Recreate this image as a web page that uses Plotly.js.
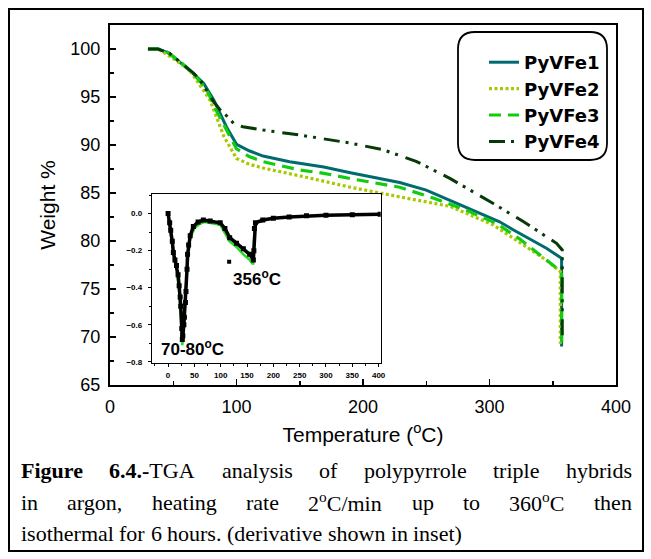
<!DOCTYPE html>
<html><head><meta charset="utf-8">
<script src="https://cdn.plot.ly/plotly-3.0.1.min.js"></script>
<style>html,body{margin:0;padding:0;background:#fff;}#chart{width:651px;height:559px;}</style>
</head><body><div id="chart"></div>
<script>
// ---------------- data ----------------
const seriesNames = ['PyVFe1', 'PyVFe2', 'PyVFe3', 'PyVFe4'];

const pyvfe1_T = [30, 38, 47, 58, 66, 74, 82, 92, 100, 110, 121, 142, 169, 190, 229, 250, 271, 308, 319, 345, 357, 357];
const pyvfe1_W = [100, 100, 99.55, 98.33, 97.4, 96.43, 94.7, 91.9, 90.07, 89.4, 88.85, 88.26, 87.7, 87.1, 86.1, 85.3, 84.1, 82.0, 81.15, 79.24, 78.2, 69.0];

const pyvfe2_T = [30, 38, 50, 63, 71, 79, 90, 100, 110, 121, 153, 190, 229, 269, 303, 319, 345, 356, 356];
const pyvfe2_W = [100, 100, 99.0, 97.8, 96.25, 94.7, 90.9, 88.6, 88.0, 87.6, 86.7, 85.6, 84.6, 83.6, 81.67, 80.3, 78.0, 76.8, 69.3];

const pyvfe3_T = [30, 38, 45, 58, 66, 76, 84, 95, 100, 110, 121, 150, 169, 190, 229, 256, 282, 306, 324, 353, 357, 357];
const pyvfe3_W = [100, 100, 99.7, 98.4, 97.4, 95.9, 93.6, 90.9, 89.6, 88.8, 88.26, 87.4, 87.05, 86.5, 85.6, 84.45, 83.2, 81.8, 80.2, 77.2, 76.5, 69.5];

const pyvfe4_T = [30, 38, 47, 58, 66, 71, 82, 88, 93.5, 98, 105, 121, 150, 190, 216, 242, 269, 303, 327, 353, 357.5, 357.5];
const pyvfe4_W = [100, 100, 99.55, 98.4, 97.5, 96.8, 94.5, 93.5, 92.9, 92.2, 91.9, 91.56, 91.04, 90.2, 89.5, 88.3, 86.5, 83.9, 82.0, 79.76, 79.07, 70.0];

// inset: derivative
const deriv_black_x = [0, 3, 5, 8, 10, 13, 16, 19, 21, 23, 24, 26, 27, 28, 30, 31, 33, 34, 36, 37, 39, 42, 48, 57, 67, 80, 99, 108, 117, 130, 143, 155, 162, 163, 164, 166, 180, 200, 230, 263, 300, 350, 403];
const deriv_black_y = [0, -0.05, -0.09, -0.15, -0.21, -0.25, -0.28, -0.33, -0.39, -0.45, -0.5, -0.62, -0.68, -0.66, -0.6, -0.56, -0.48, -0.42, -0.3, -0.22, -0.17, -0.12, -0.07, -0.045, -0.035, -0.04, -0.05, -0.08, -0.13, -0.16, -0.19, -0.22, -0.25, -0.2, -0.08, -0.05, -0.035, -0.025, -0.018, -0.012, -0.009, -0.006, -0.004];
const deriv_green_x = [0, 5, 10, 16, 21, 24, 26, 27, 28, 30, 33, 36, 39, 42, 50, 60, 70, 80, 99, 117, 130, 143, 155, 160, 162, 163, 165, 180];
const deriv_green_y = [0, -0.1, -0.22, -0.3, -0.42, -0.55, -0.66, -0.71, -0.68, -0.6, -0.45, -0.3, -0.19, -0.13, -0.08, -0.055, -0.045, -0.05, -0.06, -0.15, -0.18, -0.22, -0.25, -0.27, -0.27, -0.15, -0.05, -0.04];
const deriv_dot_x = [116];
const deriv_dot_y = [-0.26];

const insetTickX = [0, 50, 100, 150, 200, 250, 300, 350, 400];

// ---------------- layout helpers ----------------
const PL = 110, PR = 616, PT = 25, PB = 385;
const px2x = p => (p - PL) / (PR - PL);
const py2y = p => (PB - p) / (PB - PT);

function roundedRect(l, t, r, b, rad) {
  const X = px2x, Y = py2y;
  return 'M' + X(l + rad) + ',' + Y(t) +
    ' L' + X(r - rad) + ',' + Y(t) +
    ' Q' + X(r) + ',' + Y(t) + ' ' + X(r) + ',' + Y(t + rad) +
    ' L' + X(r) + ',' + Y(b - rad) +
    ' Q' + X(r) + ',' + Y(b) + ' ' + X(r - rad) + ',' + Y(b) +
    ' L' + X(l + rad) + ',' + Y(b) +
    ' Q' + X(l) + ',' + Y(b) + ' ' + X(l) + ',' + Y(b - rad) +
    ' L' + X(l) + ',' + Y(t + rad) +
    ' Q' + X(l) + ',' + Y(t) + ' ' + X(l + rad) + ',' + Y(t) + ' Z';
}

// ---------------- traces ----------------
const traces = [
  {x: pyvfe1_T, y: pyvfe1_W, name: seriesNames[0], mode: 'lines', line: {color: '#006b6e', width: 3}},
  {x: pyvfe2_T, y: pyvfe2_W, name: seriesNames[1], mode: 'lines', line: {color: '#a8c800', width: 3.2, dash: '3px,2.5px'}},
  {x: pyvfe3_T, y: pyvfe3_W, name: seriesNames[2], mode: 'lines', line: {color: '#11cc11', width: 3.2, dash: '12px,7px'}},
  {x: pyvfe4_T, y: pyvfe4_W, name: seriesNames[3], mode: 'lines', line: {color: '#063a06', width: 3, dash: '16px,6px,3px,6px,3px,8px'}},
  {x: deriv_green_x, y: deriv_green_y, xaxis: 'x2', yaxis: 'y2', mode: 'lines', showlegend: false, line: {color: '#22dd22', width: 2.5}},
  {x: deriv_black_x, y: deriv_black_y, xaxis: 'x2', yaxis: 'y2', mode: 'lines+markers', showlegend: false,
   line: {color: '#000', width: 3.5}, marker: {color: '#000', size: 5, symbol: 'square'}},
  {x: deriv_dot_x, y: deriv_dot_y, xaxis: 'x2', yaxis: 'y2', mode: 'markers', showlegend: false,
   marker: {color: '#000', size: 4, symbol: 'square'}}
];

// ---------------- caption (justified words) ----------------
const CAP_FS = 22;
const cv = document.createElement('canvas').getContext('2d');
function segW(s) {
  const fs = s.sup ? CAP_FS * 0.7 : CAP_FS;
  cv.font = (s.b ? 'bold ' : '') + fs + "px 'Liberation Serif'";
  return cv.measureText(s.t).width;
}
function segHtml(s) {
  if (s.b) return '<b>' + s.t + '</b>';
  if (s.sup) return '<sup>' + s.t + '</sup>';
  return s.t;
}
function plainWords(str) { return str.split(' ').map(w => [{t: w}]); }
const captionLines = [
  {y: 470, justify: true, words: [[{t: 'Figure', b: 1}], [{t: '6.4.-', b: 1}, {t: 'TGA'}]].concat(plainWords('analysis of polypyrrole triple hybrids'))},
  {y: 502, justify: true, words: plainWords('in argon, heating rate').concat([[{t: '2'}, {t: 'o', sup: 1}, {t: 'C/min'}]], plainWords('up to'), [[{t: '360'}, {t: 'o', sup: 1}, {t: 'C'}]], plainWords('then'))},
  {y: 533, justify: false, words: plainWords('isothermal for 6 hours. (derivative shown in inset)')}
];
const CAP_X0 = 20, CAP_X1 = 631;
const annotations = [];
captionLines.forEach(line => {
  const widths = line.words.map(w => w.reduce((a, s) => a + segW(s), 0));
  const total = widths.reduce((a, b) => a + b, 0);
  const gap = line.justify ? (CAP_X1 - CAP_X0 - total) / (line.words.length - 1) : segW({t: ' '});
  let x = CAP_X0;
  line.words.forEach((w, i) => {
    annotations.push({xref: 'paper', yref: 'paper', x: px2x(x), y: py2y(line.y), xanchor: 'left', yanchor: 'middle',
      text: w.map(segHtml).join(''), showarrow: false, borderpad: 0,
      font: {family: 'Liberation Serif, Times New Roman, serif', size: CAP_FS, color: '#000'}});
    x += widths[i] + gap;
  });
});
annotations.push({xref: 'x2', yref: 'y2', x: 168.7, y: -0.349, text: '356<sup>o</sup>C', showarrow: false,
  font: {family: 'Arial, Liberation Sans', size: 17, color: '#000', weight: 'bold'}});
annotations.push({xref: 'x2', yref: 'y2', x: 46.4, y: -0.7245, text: '70-80<sup>o</sup>C', showarrow: false,
  font: {family: 'Arial, Liberation Sans', size: 17, color: '#000', weight: 'bold'}});

const axisFont = {family: 'Arial, Liberation Sans', size: 18, color: '#000'};
const insetFont = {family: 'Arial, Liberation Sans', size: 8, color: '#000', weight: 'bold'};

const layout = {
  width: 651, height: 559,
  margin: {l: PL, r: 651 - PR, t: PT, b: 559 - PB, pad: 0},
  paper_bgcolor: '#fff', plot_bgcolor: '#fff',
  showlegend: true,
  legend: {x: px2x(484), y: py2y(44), xanchor: 'left', yanchor: 'top', bgcolor: 'rgba(0,0,0,0)', borderwidth: 0,
    font: {family: 'DejaVu Sans', size: 18, color: '#000', weight: 'bold'}},
  xaxis: {domain: [0, 1], anchor: 'y', range: [0, 400], tick0: 0, dtick: 100, ticks: 'inside', ticklen: 6, tickwidth: 1.5, tickcolor: '#000',
    minor: {ticks: 'inside', dtick: 50, ticklen: 4, tickwidth: 1.5, tickcolor: '#000'},
    showline: true, linewidth: 2, linecolor: '#000', mirror: true, showgrid: false, zeroline: false,
    tickfont: axisFont, ticklabelstandoff: 4,
    title: {text: 'Temperature (<sup>o</sup>C)', font: {family: 'Arial, Liberation Sans', size: 21, color: '#000'}, standoff: 12}},
  yaxis: {domain: [0, 1], anchor: 'x', range: [65, 102.5], tick0: 65, dtick: 5, ticks: 'inside', ticklen: 6, tickwidth: 1.5, tickcolor: '#000',
    minor: {ticks: 'inside', dtick: 2.5, ticklen: 4, tickwidth: 1.5, tickcolor: '#000'},
    showline: true, linewidth: 2, linecolor: '#000', mirror: true, showgrid: false, zeroline: false,
    tickfont: axisFont, ticklabelstandoff: 4,
    title: {text: 'Weight %', font: {family: 'Arial, Liberation Sans', size: 21, color: '#000'}, standoff: 9}},
  xaxis2: {domain: [0.0836, 0.535], anchor: 'y2', range: [-30, 404], tickvals: insetTickX, ticks: 'outside', ticklen: 3, tickwidth: 1, tickcolor: '#000',
    minor: {ticks: 'outside', dtick: 25, ticklen: 2, tickwidth: 1, tickcolor: '#000'},
    showline: true, linewidth: 1.5, linecolor: '#000', mirror: true, showgrid: false, zeroline: false,
    tickfont: insetFont, ticklabelstandoff: 1},
  yaxis2: {domain: [0.0619, 0.5297], anchor: 'x2', range: [-0.805, 0.104], tick0: 0, dtick: 0.2, tickformat: '.1f', ticks: 'outside', ticklen: 3, tickwidth: 1, tickcolor: '#000',
    minor: {ticks: 'outside', dtick: 0.1, ticklen: 2, tickwidth: 1, tickcolor: '#000'},
    showline: true, linewidth: 1.5, linecolor: '#000', mirror: true, showgrid: false, zeroline: false,
    tickfont: insetFont, ticklabelstandoff: 4},
  shapes: [
    {type: 'rect', xref: 'paper', yref: 'paper', x0: px2x(9), x1: px2x(643), y0: py2y(551), y1: py2y(9), line: {color: '#000', width: 2}},
    {type: 'path', xref: 'paper', yref: 'paper', path: roundedRect(458, 32, 607, 160, 17), line: {color: '#000', width: 1.8}}
  ],
  annotations: annotations
};

Plotly.newPlot('chart', traces, layout, {displayModeBar: false, staticPlot: true});
</script>
</body></html>
